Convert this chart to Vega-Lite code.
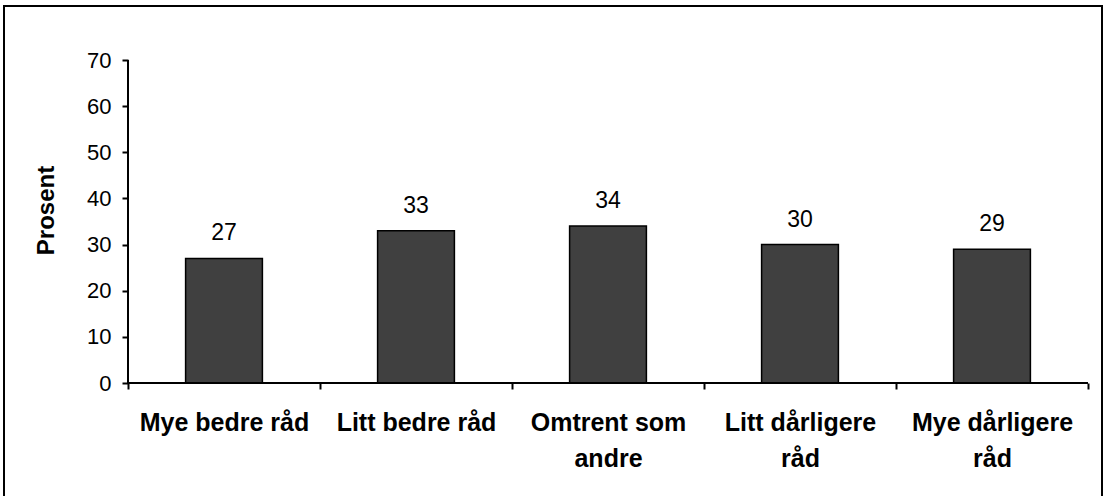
{
  "$schema": "https://vega.github.io/schema/vega-lite/v6.json",
  "width": 1098,
  "height": 494,
  "autosize": {"type": "none"},
  "padding": {"left": 4, "top": 6, "right": 4, "bottom": 0},
  "background": "white",
  "config": {
    "view": {"stroke": "black", "strokeWidth": 2},
    "font": "Liberation Sans"
  },
  "data": {
    "values": [
      {"kategori": "Mye bedre råd", "prosent": 27},
      {"kategori": "Litt bedre råd", "prosent": 33},
      {"kategori": "Omtrent som andre", "prosent": 34},
      {"kategori": "Litt dårligere råd", "prosent": 30},
      {"kategori": "Mye dårligere råd", "prosent": 29}
    ]
  },
  "encoding": {
    "x": {
      "field": "kategori",
      "type": "nominal",
      "sort": null,
      "scale": {"type": "band", "paddingInner": 0, "paddingOuter": 0.359375, "align": 0.898551, "round": false},
      "axis": {
        "orient": "bottom",
        "offset": -117,
        "domain": false,
        "ticks": true,
        "tickBand": "extent",
        "tickSize": 6,
        "tickWidth": 2,
        "tickColor": "black",
        "labelAngle": 0,
        "labelFont": "Liberation Sans",
        "labelFontSize": 25,
        "labelFontWeight": "bold",
        "labelColor": "black",
        "labelPadding": 21,
        "labelLineHeight": 36,
        "labelExpr": "datum.value == 'Omtrent som andre' ? ['Omtrent som', 'andre'] : datum.value == 'Litt dårligere råd' ? ['Litt dårligere', 'råd'] : datum.value == 'Mye dårligere råd' ? ['Mye dårligere', 'råd'] : datum.value",
        "title": null,
        "grid": false
      }
    },
    "y": {
      "field": "prosent",
      "type": "quantitative",
      "scale": {"domain": [-25.356, 81.703], "nice": false, "zero": false},
      "axis": {
        "orient": "left",
        "offset": -124,
        "domain": false,
        "values": [0, 10, 20, 30, 40, 50, 60, 70],
        "tickSize": 6,
        "tickWidth": 2,
        "tickColor": "black",
        "labelFont": "Liberation Sans",
        "labelFontSize": 22,
        "labelColor": "black",
        "labelPadding": 11,
        "title": "Prosent",
        "titleFont": "Liberation Sans",
        "titleFontSize": 24,
        "titleFontWeight": "bold",
        "titleColor": "black",
        "titlePadding": 28,
        "titleY": 204,
        "grid": false
      }
    }
  },
  "layer": [
    {
      "mark": {"type": "bar", "fill": "#404040", "stroke": "black", "strokeWidth": 1.5, "width": {"band": 0.4}}
    },
    {
      "mark": {"type": "text", "baseline": "alphabetic", "dy": -18, "fontSize": 23, "font": "Liberation Sans", "color": "black"},
      "encoding": {"text": {"field": "prosent", "type": "quantitative"}}
    },
    {
      "mark": {"type": "bar", "fill": null, "stroke": "black", "strokeWidth": 2, "width": {"band": 1}},
      "encoding": {"y": {"datum": 0}, "y2": {"datum": 0}}
    },
    {
      "mark": {"type": "rule", "stroke": "black", "strokeWidth": 2},
      "encoding": {
        "x": {"datum": "Mye bedre råd", "bandPosition": 0},
        "y": {"datum": 0},
        "y2": {"datum": 70}
      }
    }
  ]
}
